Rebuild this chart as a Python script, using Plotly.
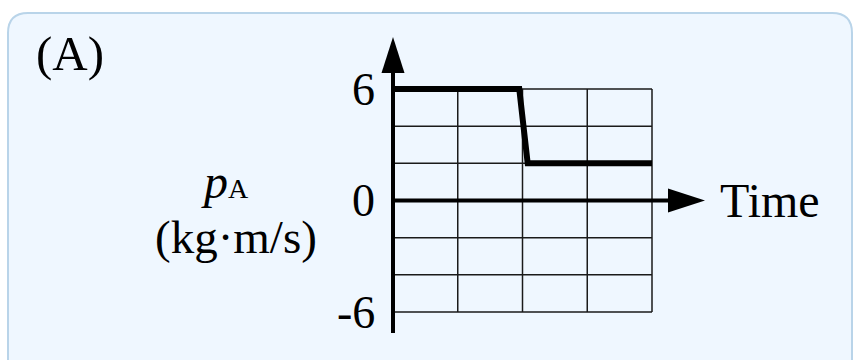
import plotly.graph_objects as go

# momentum of A vs time (grid units)
time_vals = [0, 1.95, 2.08, 4]
p_vals = [6, 6, 2, 2]

grid_x = [0, 1, 2, 3, 4]
grid_y = [-6, -4, -2, 0, 2, 4, 6]
tick_vals = [6, 0, -6]
tick_text = ['6', '0', '-6']

W, H = 858, 360
# pixel placement of the grid (x=0 -> 393px, x=4 -> 652px, y=6 -> 89px, y=-6 -> 312px)
x0_px, x4_px = 393, 652
y6_px, ym6_px = 89, 312
sx = (x4_px - x0_px) / 4
sy = (ym6_px - y6_px) / 12
xr = [-x0_px / sx, (W - x0_px) / sx]
yr = [-6 - (H - ym6_px) / sy, 6 + y6_px / sy]

FONT = 'Liberation Serif, Times New Roman, serif'


def px(x):
    return x / W


def py(y):
    return 1 - y / H


fig = go.Figure()

# grid
gx, gy = [], []
for v in grid_x:
    gx += [v, v, None]
    gy += [grid_y[0], grid_y[-1], None]
for v in grid_y:
    gx += [grid_x[0], grid_x[-1], None]
    gy += [v, v, None]
fig.add_trace(go.Scatter(x=gx, y=gy, mode='lines', line=dict(color='#1a1a1a', width=1.5),
                         hoverinfo='skip', showlegend=False))

# axes
y_axis_bottom = -6 - 21 / sy
y_axis_top = 6 + (y6_px - 73) / sy
x_axis_end = (668 - x0_px) / sx
fig.add_shape(type='line', x0=0, x1=0, y0=y_axis_bottom, y1=y_axis_top,
              line=dict(color='black', width=4))
fig.add_shape(type='line', x0=0, x1=x_axis_end, y0=0, y1=0,
              line=dict(color='black', width=4))
# arrowheads
fig.add_shape(type='path', xref='x', yref='y', xsizemode='pixel', ysizemode='pixel',
              xanchor=0, yanchor=y_axis_top, path='M -11.5 0 L 11.5 0 L 0 36 Z',
              fillcolor='black', line=dict(width=0))
fig.add_shape(type='path', xref='x', yref='y', xsizemode='pixel', ysizemode='pixel',
              xanchor=x_axis_end, yanchor=0, path='M 0 -12 L 0 12 L 37 0 Z',
              fillcolor='black', line=dict(width=0))

# data line
fig.add_trace(go.Scatter(x=time_vals, y=p_vals, mode='lines',
                         line=dict(color='black', width=6), hoverinfo='skip', showlegend=False))

# tick labels
for v, t in zip(tick_vals, tick_text):
    fig.add_annotation(x=0, y=v, text=t, showarrow=False, xanchor='right', yanchor='middle',
                       xshift=-16, font=dict(family=FONT, size=46, color='black'))

# background panel
L, T, R, B = 8, 13, 852, 400
r = 20
path = (f'M {px(L)},{py(B)} L {px(L)},{py(T + r)} Q {px(L)},{py(T)} {px(L + r)},{py(T)} '
        f'L {px(R - r)},{py(T)} Q {px(R)},{py(T)} {px(R)},{py(T + r)} L {px(R)},{py(B)} Z')
fig.add_shape(type='path', xref='paper', yref='paper', path=path, layer='below',
              fillcolor='#eff7ff', line=dict(color='#b9d4e9', width=2))

fig.add_annotation(xref='paper', yref='paper', x=px(34), y=py(53), text='(A)', showarrow=False,
                   xanchor='left', yanchor='middle', font=dict(family=FONT, size=49, color='black'))
fig.add_annotation(xref='paper', yref='paper', x=px(225), y=py(181),
                   text='<i>p</i><span style="font-size:28px">A</span>', showarrow=False,
                   xanchor='center', yanchor='middle', font=dict(family=FONT, size=48, color='black'))
fig.add_annotation(xref='paper', yref='paper', x=px(236), y=py(237), text='(kg·m/s)',
                   showarrow=False, xanchor='center', yanchor='middle',
                   font=dict(family=FONT, size=47, color='black'))
fig.add_annotation(x=x_axis_end, y=0, text='Time', showarrow=False, xanchor='left',
                   yanchor='middle', xshift=50, font=dict(family=FONT, size=48, color='black'))

fig.update_layout(
    width=W, height=H,
    margin=dict(l=0, r=0, t=0, b=0),
    paper_bgcolor='white', plot_bgcolor='rgba(0,0,0,0)',
    xaxis=dict(range=xr, visible=False, fixedrange=True),
    yaxis=dict(range=yr, visible=False, fixedrange=True),
    showlegend=False,
)

fig.write_html("out.html", config={'displayModeBar': False},
               post_script="document.body.style.margin='0';")
